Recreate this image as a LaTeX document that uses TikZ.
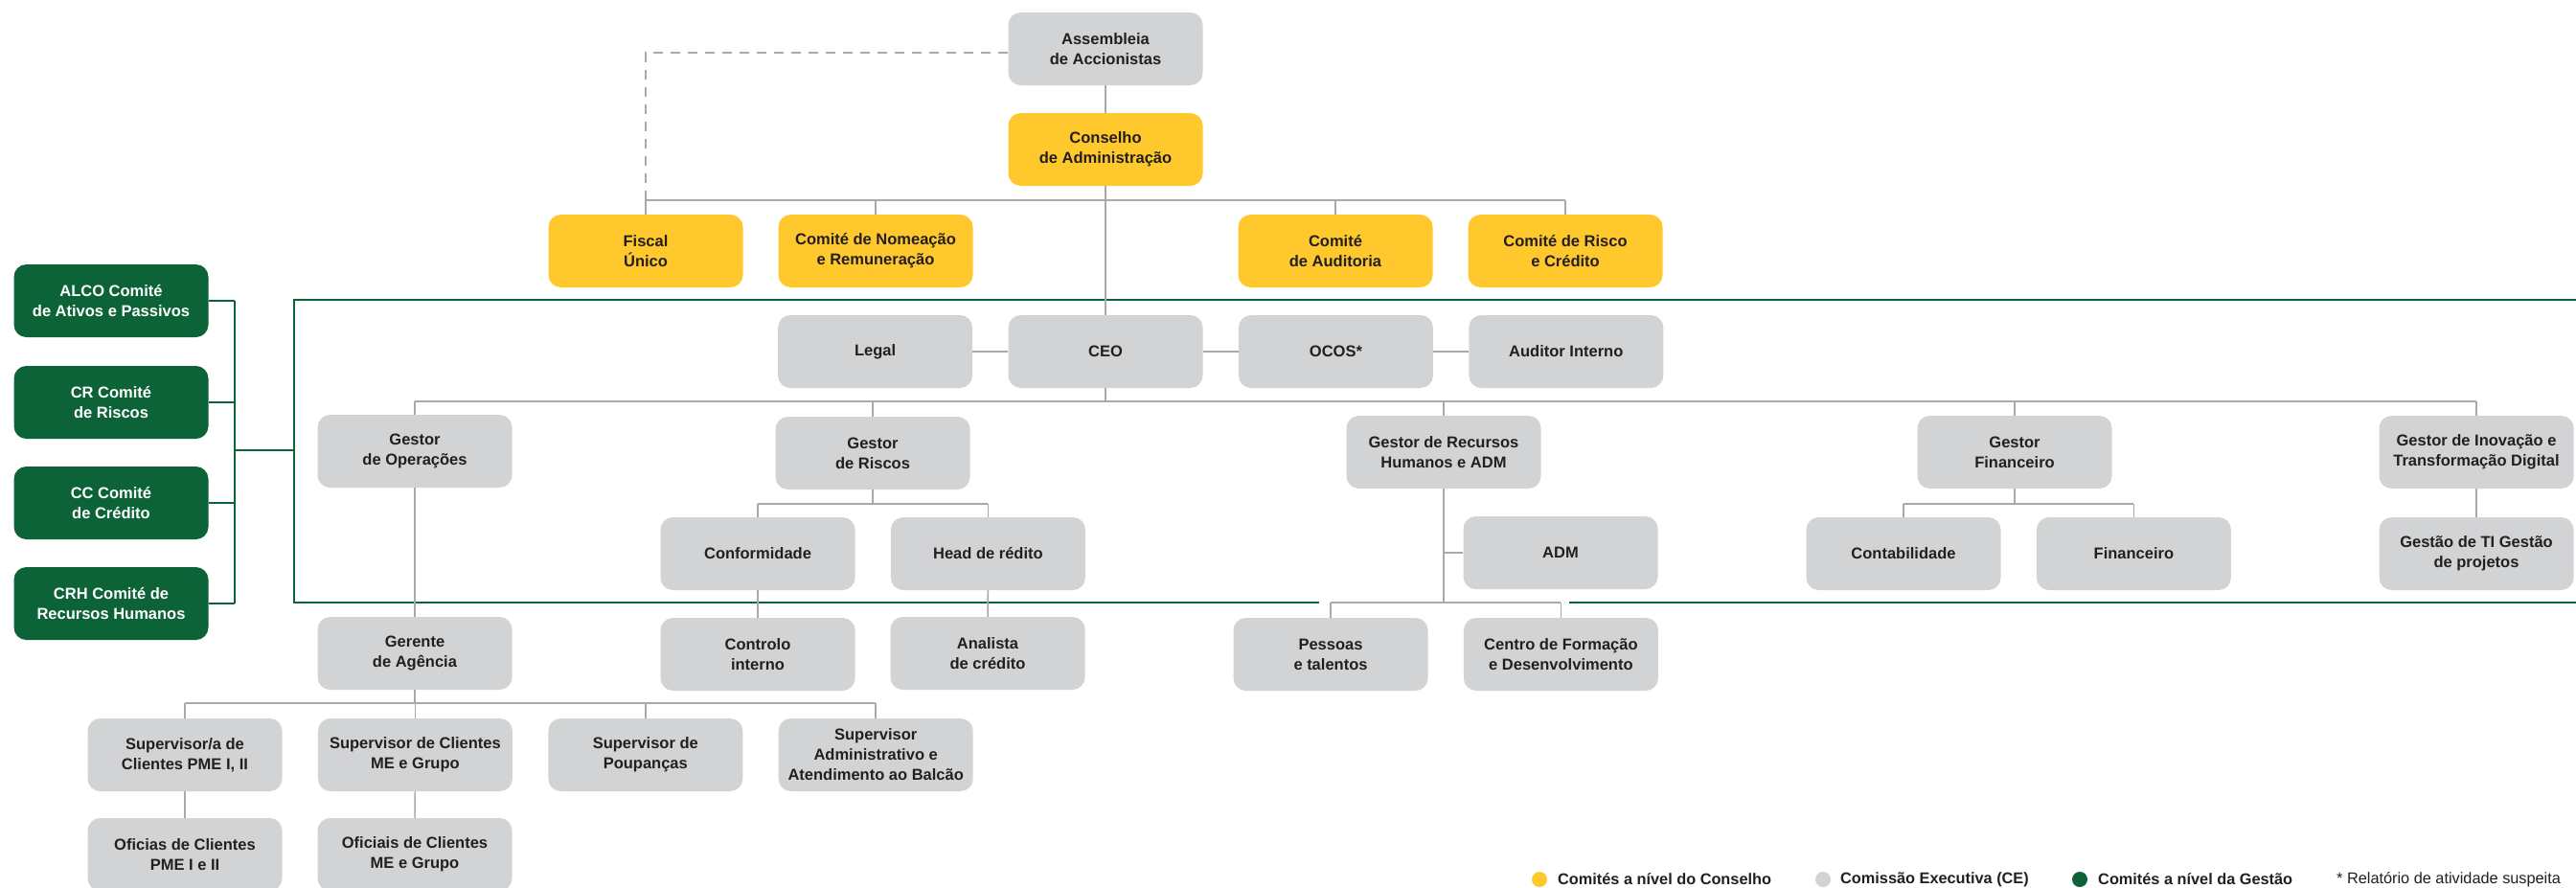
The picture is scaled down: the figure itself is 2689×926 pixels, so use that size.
\documentclass[tikz,border=0pt]{standalone}
\usepackage{fontspec}
\setmainfont{Liberation Sans}
\usepackage{xcolor}
\usepackage{tikz}
\usetikzlibrary{positioning}
\definecolor{conselho}{HTML}{FFC82C}
\definecolor{comissao}{HTML}{D1D3D4}
\definecolor{gestao}{HTML}{0D6338}
\definecolor{linha}{HTML}{A7A9AC}
\definecolor{texto}{HTML}{231F20}

\begin{document}
\begin{tikzpicture}[
    x=1pt, y=-1pt,
    node distance=29pt and 37pt,
    box/.style={rectangle, rounded corners=13pt, minimum width=203pt, minimum height=76pt, align=center, inner sep=2pt, text=texto, font=\fontsize{16.5}{21}\selectfont\bfseries},
    boardbox/.style={box, fill=conselho},
    cebox/.style={box, fill=comissao},
    mgmtbox/.style={box, fill=gestao, text=white},
    link/.style={draw=linha, line width=1.5pt},
    bar/.style={draw=linha, line width=2.5pt},
    dashlink/.style={draw=linha, line width=2pt, dash pattern=on 10pt off 8pt},
    frame/.style={draw=gestao, line width=2pt},
    dot/.style={circle, minimum size=16pt, inner sep=0pt},
    legend/.style={anchor=west, inner sep=0pt, text=texto, font=\fontsize{16.3}{19}\selectfont\bfseries}
]
    \useasboundingbox (0,0) rectangle (2689,926);

    \draw[frame] (2700,313) -| (307,629) -- (1377,629);
    \draw[frame] (1638,629) -- (2700,629);

    \node[cebox] (ass) at (1154,51) {Assembleia\\de Accionistas};
    \node[boardbox] (cons) at (1154,156) {Conselho\\de Administração};
    \node[boardbox] (fiscal) at (674,262) {Fiscal\\Único};
    \node[boardbox] (nomea) at (914,262) {Comité de Nomeação\\e Remuneração};
    \node[boardbox] (audit) at (1394,262) {Comité\\de Auditoria};
    \node[boardbox] (risco) at (1634,262) {Comité de Risco\\e Crédito};

    \node[cebox] (ceo) at (1154,367) {CEO};
    \node[cebox, left=of ceo] (legal) {Legal};
    \node[cebox, right=of ceo] (ocos) {OCOS*};
    \node[cebox, right=of ocos] (audint) {Auditor Interno};

    \node[cebox] (gop) at (433,471) {Gestor\\de Operações};
    \node[cebox] (grisk) at (911,473) {Gestor\\de Riscos};
    \node[cebox] (grh) at (1507,472) {Gestor de Recursos\\Humanos e ADM};
    \node[cebox] (gfin) at (2103,472) {Gestor\\Financeiro};
    \node[cebox] (ginov) at (2585,472) {Gestor de Inovação e\\Transformação Digital};

    \node[cebox] (conf) at (791,578) {Conformidade};
    \node[cebox, right=of conf] (head) {Head de rédito};
    \node[cebox] (adm) at (1629,577) {ADM};
    \node[cebox] (contab) at (1987,578) {Contabilidade};
    \node[cebox, right=of contab] (fin) {Financeiro};
    \node[cebox] (ti) at (2585,578) {Gestão de TI Gestão\\de projetos};

    \node[cebox] (ger) at (433,682) {Gerente\\de Agência};
    \node[cebox] (ctrl) at (791,683) {Controlo\\interno};
    \node[cebox] (anal) at (1031,682) {Analista\\de crédito};
    \node[cebox] (pess) at (1389,683) {Pessoas\\e talentos};
    \node[cebox, right=of pess] (centro) {Centro de Formação\\e Desenvolvimento};

    \node[cebox] (sup1) at (193,788) {Supervisor/a de\\Clientes PME I, II};
    \node[cebox, right=of sup1] (sup2) {Supervisor de Clientes\\ME e Grupo};
    \node[cebox, right=of sup2] (sup3) {Supervisor de\\Poupanças};
    \node[cebox, right=of sup3] (sup4) {Supervisor\\Administrativo e\\Atendimento ao Balcão};
    \node[cebox] (ofi1) at (193,892) {Oficias de Clientes\\PME I e II};
    \node[cebox] (ofi2) at (433,892) {Oficiais de Clientes\\ME e Grupo};

    \node[mgmtbox] (alco) at (116,314) {ALCO Comité\\de Ativos e Passivos};
    \node[mgmtbox] (cr) at (116,420) {CR Comité\\de Riscos};
    \node[mgmtbox] (cc) at (116,525) {CC Comité\\de Crédito};
    \node[mgmtbox] (crh) at (116,630) {CRH Comité de\\Recursos Humanos};

    \coordinate (cj) at (1154,209);
    \coordinate (mj) at (1154,419);
    \coordinate (rj) at (911,526);
    \coordinate (fj) at (2103,526);
    \coordinate (hj) at (1507,629);
    \coordinate (gj) at (433,734);
    \coordinate (gb) at (245,470);
    \coordinate (fw) at (307,470);

    \draw[dashlink] ([yshift=-4pt]ass.west) -| (fiscal.north |- cj);
    \draw[link] (ass) -- (cons);
    \draw[link] (cons.south) -- (ceo.north);
    \draw[bar] (fiscal.north |- cj) -- (risco.north |- cj);
    \foreach \n in {fiscal,nomea,audit,risco}
        \draw[link] (\n.north) -- (\n.north |- cj);

    \draw[bar] (legal) -- (ceo) -- (ocos) -- (audint);

    \draw[link] (ceo.south) -- (mj);
    \draw[bar] (gop.north |- mj) -- (ginov.north |- mj);
    \foreach \n in {gop,grisk,grh,gfin,ginov}
        \draw[link] (\n.north) -- (\n.north |- mj);

    \draw[link] (grisk.south) -- (rj);
    \draw[bar] (conf.north |- rj) -- (head.north |- rj);
    \draw[link] (gfin.south) -- (fj);
    \draw[bar] (contab.north |- fj) -- (fin.north |- fj);
    \foreach \n in {conf,head,contab,fin}
        \draw[link] (\n.north) -- (\n.north |- rj);
    \draw[link] (ginov) -- (ti);
    \draw[link] (conf) -- (ctrl);
    \draw[link] (head) -- (anal);

    \draw[link] (grh.south) -- (hj);
    \draw[link] (adm.west) -- (adm.west -| hj);
    \draw[bar] (pess.north |- hj) -- (centro.north |- hj);
    \foreach \n in {pess,centro}
        \draw[link] (\n.north) -- (\n.north |- hj);

    \draw[link] (gop) -- (ger);
    \draw[link] (ger.south) -- (gj);
    \draw[bar] (sup1.north |- gj) -- (sup4.north |- gj);
    \foreach \n in {sup1,sup2,sup3,sup4}
        \draw[link] (\n.north) -- (\n.north |- gj);
    \draw[link] (sup1) -- (ofi1);
    \draw[link] (sup2) -- (ofi2);

    \foreach \n in {alco,cr,cc,crh}
        \draw[frame] (\n.east) -- (\n.east -| gb);
    \draw[frame] (alco.east -| gb) -- (crh.east -| gb);
    \draw[frame] (gb) -- (fw);

    \node[dot, fill=conselho] (dc) at (1607,918) {};
    \node[legend] (tc) at (1626,918) {Comités a nível do Conselho};
    \node[dot, fill=comissao] (dx) at (1903,918) {};
    \node[legend] (tx) at (1921,918) {Comissão Executiva (CE)};
    \node[dot, fill=gestao] (dg) at (2171,918) {};
    \node[legend] (tg) at (2190,918) {Comités a nível da Gestão};
    \node[legend, font=\fontsize{16.3}{19}\selectfont] (nota) at (2439,918) {* Relatório de atividade suspeita};
\end{tikzpicture}
\end{document}
